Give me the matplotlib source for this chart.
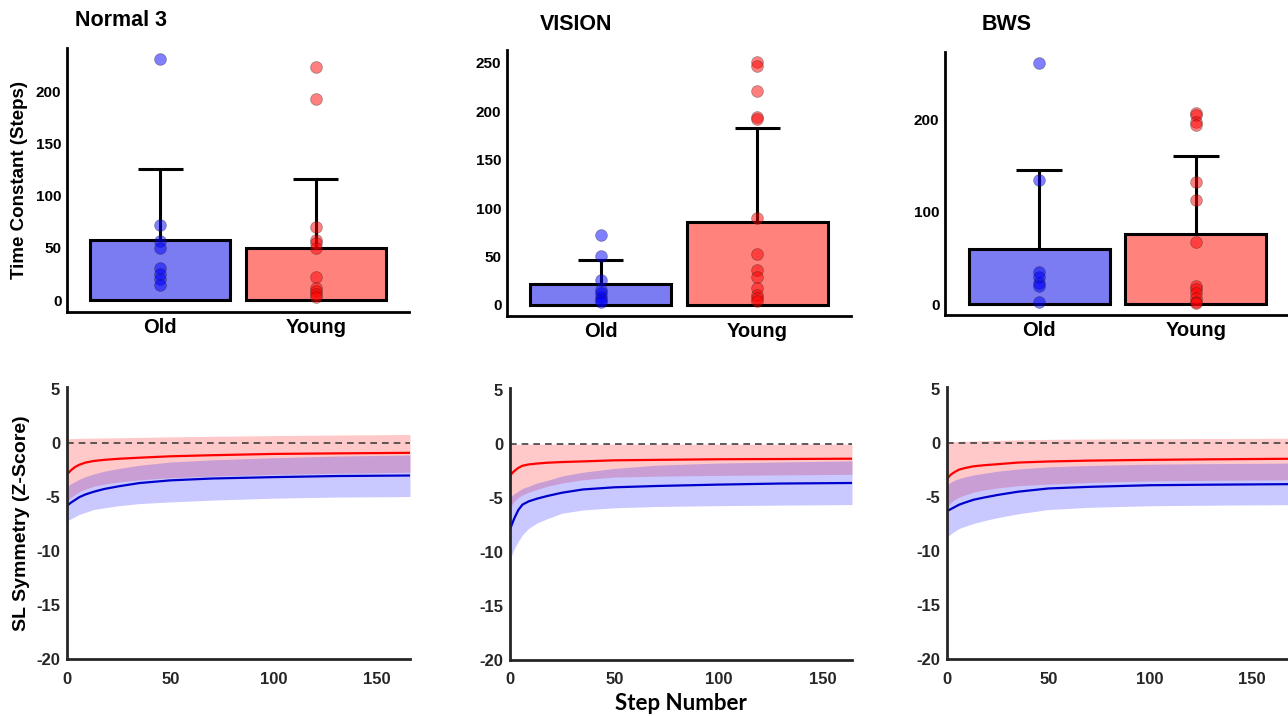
import numpy as np
import matplotlib
matplotlib.use('Agg')
import matplotlib.pyplot as plt

plt.rcParams['font.family'] = ['Liberation Sans', 'DejaVu Sans']
plt.rcParams['axes.unicode_minus'] = False

# ---- top row: time constants ----
groups = ['Old', 'Young']
titles = ['Normal 3', 'VISION', 'BWS']

normal_old = [231, 72, 57, 50, 31, 25, 20, 14]
normal_young = [224, 193, 70, 58, 55, 50, 22, 12, 9, 6, 3]
vision_old = [72, 50, 26, 15, 12, 8, 5, 3]
vision_young = [251, 246, 221, 194, 192, 90, 53, 36, 29, 17, 10, 7, 4]
bws_old = [261, 134, 35, 30, 23, 20, 2]
bws_young = [207, 205, 197, 194, 132, 113, 67, 20, 17, 12, 7, 3, 1]

normal_bar = [58, 50]
vision_bar = [22, 86]
bws_bar = [60, 75.5]

normal_err = [125.5, 116]
vision_err = [46, 183]
bws_err = [145, 160]

top_ylim = [(-11.5, 242), (-11.4, 263), (-11.5, 272.5)]
top_ticks = [[0, 50, 100, 150, 200], [0, 50, 100, 150, 200, 250], [0, 100, 200]]

# ---- bottom row: SL symmetry fits ----
normal_steps = [0, 1, 2, 4, 6, 9, 13, 18, 25, 35, 50, 70, 100, 130, 166]
vision_steps = [0, 1, 2, 4, 6, 9, 13, 18, 25, 35, 50, 70, 100, 130, 164]
bws_steps = [0, 1, 2, 4, 6, 9, 13, 18, 25, 35, 50, 70, 100, 130, 169]

normal_young_fit = [-2.9, -2.7, -2.5, -2.2, -2.0, -1.8, -1.65, -1.55, -1.45, -1.35, -1.22, -1.12, -1.0, -0.95, -0.9]
normal_young_hi = [0.4, 0.4, 0.42, 0.43, 0.44, 0.45, 0.46, 0.48, 0.5, 0.53, 0.58, 0.63, 0.7, 0.75, 0.8]
normal_young_lo = [-5.4, -5.2, -5.0, -4.75, -4.5, -4.25, -4.0, -3.8, -3.6, -3.4, -3.2, -3.05, -2.9, -2.8, -2.7]
normal_old_fit = [-5.8, -5.65, -5.5, -5.25, -5.0, -4.75, -4.5, -4.25, -4.0, -3.7, -3.45, -3.28, -3.15, -3.05, -3.0]
normal_old_hi = [-4.05, -3.9, -3.75, -3.55, -3.35, -3.1, -2.85, -2.6, -2.35, -2.05, -1.75, -1.55, -1.35, -1.2, -1.1]
normal_old_lo = [-7.25, -7.1, -7.0, -6.8, -6.6, -6.4, -6.15, -6.0, -5.8, -5.6, -5.45, -5.28, -5.1, -5.0, -4.95]

vision_young_fit = [-2.9, -2.7, -2.5, -2.2, -2.0, -1.88, -1.8, -1.72, -1.66, -1.6, -1.5, -1.46, -1.4, -1.38, -1.35]
vision_young_hi = [0, 0, 0, 0, 0, 0, 0, 0, 0, 0, 0, 0, 0, 0, 0]
vision_young_lo = [-5.9, -5.6, -5.3, -4.95, -4.7, -4.45, -4.2, -3.9, -3.6, -3.3, -3.05, -2.97, -2.9, -2.85, -2.8]
vision_old_fit = [-7.9, -7.4, -6.9, -6.1, -5.6, -5.3, -5.05, -4.8, -4.5, -4.2, -4.0, -3.88, -3.75, -3.65, -3.6]
vision_old_hi = [-4.9, -4.75, -4.6, -4.35, -4.1, -3.9, -3.6, -3.35, -2.95, -2.6, -2.25, -1.95, -1.75, -1.65, -1.55]
vision_old_lo = [-10.7, -10.2, -9.7, -9.0, -8.4, -7.8, -7.3, -6.9, -6.4, -6.1, -5.9, -5.78, -5.7, -5.65, -5.6]

bws_young_fit = [-3.3, -3.1, -2.9, -2.65, -2.45, -2.3, -2.15, -2.05, -1.95, -1.8, -1.7, -1.62, -1.55, -1.5, -1.45]
bws_young_hi = [0.1, 0.1, 0.12, 0.14, 0.16, 0.18, 0.2, 0.22, 0.25, 0.3, 0.35, 0.38, 0.4, 0.43, 0.45]
bws_young_lo = [-5.9, -5.7, -5.5, -5.2, -5.0, -4.8, -4.55, -4.35, -4.15, -3.95, -3.8, -3.65, -3.5, -3.45, -3.4]
bws_old_fit = [-6.3, -6.2, -6.1, -5.9, -5.7, -5.5, -5.25, -5.05, -4.8, -4.5, -4.2, -4.05, -3.9, -3.85, -3.8]
bws_old_hi = [-3.9, -3.75, -3.6, -3.42, -3.28, -3.12, -2.95, -2.8, -2.6, -2.4, -2.2, -2.07, -1.95, -1.9, -1.85]
bws_old_lo = [-8.7, -8.55, -8.4, -8.15, -7.9, -7.7, -7.45, -7.2, -6.9, -6.55, -6.15, -5.95, -5.8, -5.75, -5.7]

W, H = 1288, 716
fig = plt.figure(figsize=(W / 100, H / 100), dpi=100)


def rect(left, right, top, bottom):
    return [left / W, 1 - bottom / H, (right - left) / W, (bottom - top) / H]


top_pos = [rect(67, 409, 48, 312), rect(507, 851, 50, 316), rect(945, 1290, 52, 315)]
bot_pos = [rect(67, 410, 387, 659), rect(510, 852, 388, 660), rect(947, 1290, 387, 659)]
title_xy = [(75, 21), (540, 24), (982, 24)]

points = [(normal_old, normal_young), (vision_old, vision_young), (bws_old, bws_young)]
bars = [normal_bar, vision_bar, bws_bar]
errs = [normal_err, vision_err, bws_err]

bar_cols = ['#7b7bf2', '#ff827d']
pt_cols = [(0, 0, 1, 0.5), (1, 0, 0, 0.5)]

for i in range(3):
    ax = fig.add_axes(top_pos[i])
    x = np.arange(1, 3)
    ax.bar(x, bars[i], width=0.9, color=bar_cols, edgecolor='black', linewidth=2.2, zorder=1)
    ax.vlines(x, bars[i], errs[i], color='black', linewidth=2.2, zorder=2)
    ax.hlines(errs[i], x - 0.145, x + 0.145, color='black', linewidth=2.2, zorder=2)
    for j in range(2):
        vals = points[i][j]
        ax.scatter([x[j]] * len(vals), vals, s=72, color=pt_cols[j],
                   edgecolors=(0.1, 0.1, 0.1, 0.35), linewidths=0.6, zorder=3)
    ax.set_xlim(0.4, 2.6)
    ax.set_ylim(*top_ylim[i])
    ax.set_yticks(top_ticks[i])
    ax.set_xticks(x)
    ax.set_xticklabels(groups, fontsize=14.5, fontweight='bold')
    for lab in ax.get_yticklabels():
        lab.set_fontweight('bold')
        lab.set_fontsize(11)
    ax.tick_params(axis='both', length=0, colors='black')
    ax.tick_params(axis='y', pad=4)
    ax.tick_params(axis='x', pad=4)
    for s in ['top', 'right']:
        ax.spines[s].set_visible(False)
    for s in ['left', 'bottom']:
        ax.spines[s].set_linewidth(2)
    if i == 0:
        ax.set_ylabel('Time Constant (Steps)', fontsize=13.5, fontweight='bold', labelpad=6)
    fig.text(title_xy[i][0] / W, 1 - title_xy[i][1] / H, titles[i],
             fontsize=15.5, fontweight='bold', ha='left', va='center')

steps = [normal_steps, vision_steps, bws_steps]
young_fit = [normal_young_fit, vision_young_fit, bws_young_fit]
young_hi = [normal_young_hi, vision_young_hi, bws_young_hi]
young_lo = [normal_young_lo, vision_young_lo, bws_young_lo]
old_fit = [normal_old_fit, vision_old_fit, bws_old_fit]
old_hi = [normal_old_hi, vision_old_hi, bws_old_hi]
old_lo = [normal_old_lo, vision_old_lo, bws_old_lo]

gray = '#262626'
for i in range(3):
    ax = fig.add_axes(bot_pos[i])
    st = steps[i]
    ax.fill_between(st, young_lo[i], young_hi[i], color='red', alpha=0.21, linewidth=0)
    ax.fill_between(st, old_lo[i], old_hi[i], color='blue', alpha=0.21, linewidth=0)
    ax.plot([0, st[-1]], [0, 0], color='#404040', linestyle=(0, (4, 3)), linewidth=1.2)
    ax.plot(st, young_fit[i], color='#ff0000', linewidth=1.6)
    ax.plot(st, old_fit[i], color='#0000cc', linewidth=1.6)
    ax.set_xlim(0, st[-1])
    ax.set_ylim(-20, 5.2)
    ax.set_yticks([5, 0, -5, -10, -15, -20])
    ax.set_xticks([0, 50, 100, 150])
    for lab in ax.get_xticklabels() + ax.get_yticklabels():
        lab.set_fontweight('bold')
        lab.set_fontsize(12)
    ax.tick_params(axis='both', length=0, colors=gray)
    ax.tick_params(axis='y', pad=5)
    ax.tick_params(axis='x', pad=9)
    for s in ['top', 'right']:
        ax.spines[s].set_visible(False)
    for s in ['left', 'bottom']:
        ax.spines[s].set_linewidth(2)
        ax.spines[s].set_color(gray)
    if i == 0:
        ax.set_ylabel('SL Symmetry (Z-Score)', fontsize=14, fontweight='bold')
    if i == 1:
        ax.set_xlabel('Step Number', fontsize=16, fontweight='bold',
                      family=['Lato', 'DejaVu Sans'])

fig.savefig('out.png', dpi=100)
